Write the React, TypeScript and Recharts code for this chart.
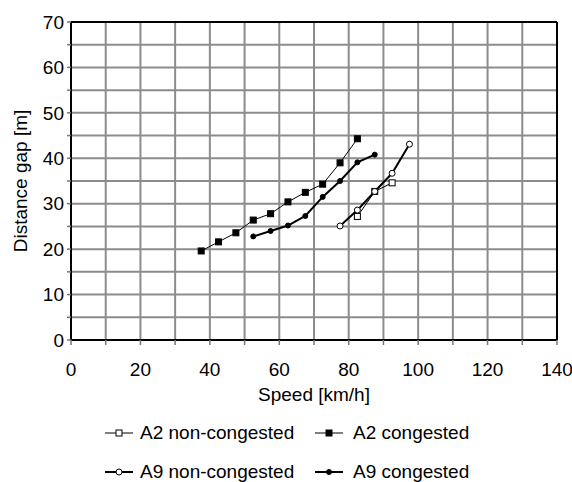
import { CartesianGrid, Legend, Line, LineChart, ReferenceLine, XAxis, YAxis } from "recharts";

const xTicks = [0, 10, 20, 30, 40, 50, 60, 70, 80, 90, 100, 110, 120, 130, 140];
const yTicks = [0, 5, 10, 15, 20, 25, 30, 35, 40, 45, 50, 55, 60, 65, 70];

const a2NonSpeed = [82.5, 87.5, 92.5];
const a2NonGap = [27.2, 32.7, 34.6];

const a2CongSpeed = [37.5, 42.5, 47.5, 52.5, 57.5, 62.5, 67.5, 72.5, 77.5, 82.5];
const a2CongGap = [19.6, 21.6, 23.6, 26.4, 27.8, 30.4, 32.5, 34.3, 39.0, 44.3];

const a9NonSpeed = [77.5, 82.5, 87.5, 92.5, 97.5];
const a9NonGap = [25.1, 28.6, 32.7, 36.7, 43.1];

const a9CongSpeed = [52.5, 57.5, 62.5, 67.5, 72.5, 77.5, 82.5, 87.5];
const a9CongGap = [22.8, 24.0, 25.2, 27.3, 31.5, 35.0, 39.1, 40.8];

const toPoints = (xs: number[], ys: number[]) => xs.map((x, i) => ({ speed: x, gap: ys[i] }));

const FONT = "'Liberation Sans', Arial, sans-serif";
const FS = 19;

const Square = (fill: string) => (props: any) => {
  const { cx, cy } = props;
  if (cx == null || cy == null) return null;
  return <rect x={cx - 3} y={cy - 3} width={6} height={6} fill={fill} stroke="#000" strokeWidth={1} />;
};

const Circle = (fill: string, r: number) => (props: any) => {
  const { cx, cy } = props;
  if (cx == null || cy == null) return null;
  return <circle cx={cx} cy={cy} r={r} fill={fill} stroke="#000" strokeWidth={1} />;
};

const series = [
  { name: "A2 non-congested", data: toPoints(a2NonSpeed, a2NonGap), width: 1, marker: "square", fill: "#fff" },
  { name: "A2 congested", data: toPoints(a2CongSpeed, a2CongGap), width: 1, marker: "square", fill: "#000" },
  { name: "A9 non-congested", data: toPoints(a9NonSpeed, a9NonGap), width: 2, marker: "circle", fill: "#fff" },
  { name: "A9 congested", data: toPoints(a9CongSpeed, a9CongGap), width: 2, marker: "circle", fill: "#000" },
];

function LegendIcon({ s }: { s: (typeof series)[number] }) {
  return (
    <svg width={28} height={12} style={{ position: "absolute", left: 0, top: -6 }}>
      <line x1={0} y1={6} x2={28} y2={6} stroke="#000" strokeWidth={s.width} />
      {s.marker === "square" ? (
        <rect x={11} y={3} width={6} height={6} fill={s.fill} stroke="#000" strokeWidth={1} />
      ) : (
        <circle cx={14} cy={6} r={s.fill === "#000" ? 2.5 : 3} fill={s.fill} stroke="#000" strokeWidth={1} />
      )}
    </svg>
  );
}

function renderLegend() {
  const cols = [105, 315];
  const rows = [31, 70];
  return (
    <div style={{ position: "relative", height: 80, width: 557, fontFamily: FONT, fontSize: FS, color: "#000" }}>
      {series.map((s, i) => (
        <div key={s.name} style={{ position: "absolute", left: cols[i % 2], top: rows[Math.floor(i / 2)] }}>
          <LegendIcon s={s} />
          <span style={{ position: "absolute", left: 35 + (i % 2) * 3, top: -12, whiteSpace: "nowrap", lineHeight: "24px" }}>
            {s.name}
          </span>
        </div>
      ))}
    </div>
  );
}

export default function App() {
  return (
    <div style={{ position: "absolute", left: 0, top: 0 }}>
      <LineChart width={572} height={482} margin={{ top: 22, right: 15, left: 0, bottom: 0 }} style={{ fontFamily: FONT }}>
        <CartesianGrid stroke="#8c8c8c" strokeWidth={2} horizontalValues={yTicks} verticalValues={xTicks} />
        <XAxis
          dataKey="speed"
          type="number"
          domain={[0, 140]}
          ticks={xTicks}
          interval={0}
          height={62}
          tickFormatter={(v) => (v % 20 === 0 ? `${v}` : "")}
          tick={{ fill: "#000", fontSize: FS }}
          tickSize={5}
          tickMargin={18}
          tickLine={{ stroke: "#777", strokeWidth: 1.5 }}
          axisLine={{ stroke: "#000", strokeWidth: 2 }}
          label={{ value: "Speed [km/h]", position: "insideBottom", offset: 1, fill: "#000", fontSize: FS }}
        />
        <YAxis
          dataKey="gap"
          type="number"
          domain={[0, 70]}
          ticks={yTicks}
          interval={0}
          width={71}
          tickFormatter={(v) => (v % 10 === 0 ? `${v}` : "")}
          tick={{ fill: "#000", fontSize: FS }}
          tickSize={4}
          tickMargin={3}
          tickLine={{ stroke: "#777", strokeWidth: 1.5 }}
          axisLine={{ stroke: "#000", strokeWidth: 2 }}
          label={{
            content: (p: any) => {
              const vb = p.viewBox || { x: 0, y: 22, width: 71, height: 318 };
              const cx = vb.x + 20;
              const cy = vb.y + vb.height / 2;
              return (
                <text x={cx} y={cy} transform={`rotate(-90 ${cx} ${cy})`} textAnchor="middle" dominantBaseline="central" fontSize={FS} fill="#000">
                  Distance gap [m]
                </text>
              );
            },
          }}
        />
        <ReferenceLine y={70} stroke="#000" strokeWidth={2} />
        <ReferenceLine x={140} stroke="#000" strokeWidth={2} />
        <Legend verticalAlign="bottom" height={80} content={renderLegend} />
        {series.map((s) => (
          <Line
            key={s.name}
            name={s.name}
            data={s.data}
            dataKey="gap"
            stroke="#000"
            strokeWidth={s.width}
            isAnimationActive={false}
            dot={s.marker === "square" ? Square(s.fill) : Circle(s.fill, s.fill === "#000" ? 2.5 : 3)}
            activeDot={false}
          />
        ))}
      </LineChart>
    </div>
  );
}
